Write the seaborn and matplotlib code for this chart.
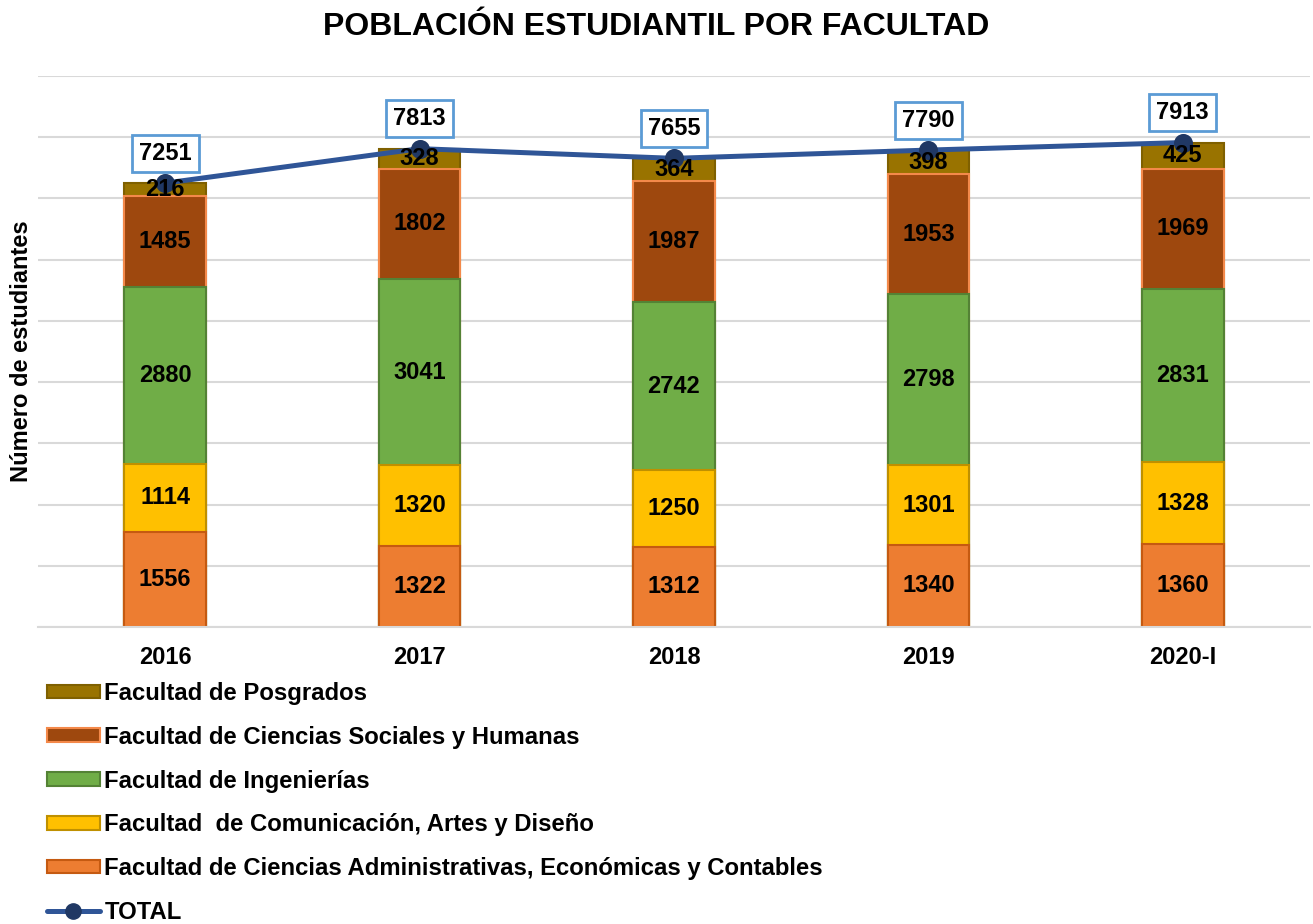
import matplotlib
matplotlib.use("Agg")
import matplotlib.pyplot as plt
import seaborn as sns
import numpy as np
import pandas as pd
from matplotlib.patches import Patch
from matplotlib.lines import Line2D

years = ["2016", "2017", "2018", "2019", "2020-I"]
administrativas = [1556, 1322, 1312, 1340, 1360]
comunicacion = [1114, 1320, 1250, 1301, 1328]
ingenierias = [2880, 3041, 2742, 2798, 2831]
sociales = [1485, 1802, 1987, 1953, 1969]
posgrados = [216, 328, 364, 398, 425]
totals = [7251, 7813, 7655, 7790, 7913]

series_names = [
    "Facultad de Ciencias Administrativas, Económicas y Contables",
    "Facultad  de Comunicación, Artes y Diseño",
    "Facultad de Ingenierías",
    "Facultad de Ciencias Sociales y Humanas",
    "Facultad de Posgrados",
]
series_vals = [administrativas, comunicacion, ingenierias, sociales, posgrados]
face_colors = ["#ED7D31", "#FFC000", "#70AD47", "#9E480E", "#997300"]
edge_colors = ["#C55A11", "#BF9000", "#548235", "#F4894A", "#7F6000"]

sns.set_theme(style="white")
plt.rcParams["font.family"] = ["Liberation Sans", "DejaVu Sans"]
plt.rcParams["font.weight"] = "bold"
plt.rcParams["text.color"] = "black"
plt.rcParams["axes.labelcolor"] = "black"
plt.rcParams["xtick.color"] = "black"
plt.rcParams["ytick.color"] = "black"

fig = plt.figure(figsize=(13.13, 9.24), dpi=100)
ax = fig.add_axes([38 / 1313, 1 - 627 / 924, (1310 - 38) / 1313, (627 - 76) / 924])

vals = np.array(series_vals, dtype=float)
cum = np.cumsum(vals, axis=0)

# draw cumulative bars from top layer down so each lower layer covers the upper one
for i in range(len(series_names) - 1, -1, -1):
    df = pd.DataFrame({"year": years, "value": cum[i]})
    sns.barplot(data=df, x="year", y="value", order=years, ax=ax,
                color=face_colors[i], edgecolor=edge_colors[i], linewidth=1.5,
                width=0.32, errorbar=None, saturation=1, zorder=2)

# total line
dft = pd.DataFrame({"year": years, "total": totals})
sns.pointplot(data=dft, x="year", y="total", order=years, ax=ax, color="#2F5597",
              markers="o", markersize=11, linewidth=3.6, errorbar=None, zorder=4)
for ln in ax.lines:
    ln.set_markerfacecolor("#203864")
    ln.set_markeredgecolor("#203864")
    ln.set_zorder(4)

# segment labels
for i in range(len(series_names)):
    for j in range(len(years)):
        bottom = cum[i][j] - vals[i][j]
        ax.text(j, bottom + vals[i][j] / 2, f"{int(vals[i][j])}", ha="center",
                va="center", fontsize=17, fontweight="bold", color="black", zorder=5)

for j, t in enumerate(totals):
    ax.annotate(f"{t}", xy=(j, t), xytext=(0, 21.5), textcoords="offset points",
                ha="center", va="center", fontsize=17, fontweight="bold",
                color="black", zorder=6,
                bbox=dict(boxstyle="square,pad=0.3", fc="white", ec="#5B9BD5", lw=2))

ax.set_ylim(0, 9000)
ax.set_xlim(-0.5, 4.5)
ax.set_yticks(np.arange(0, 9001, 1000))
ax.set_yticklabels([])
ax.tick_params(axis="y", length=0)
ax.tick_params(axis="x", length=0, pad=14, labelsize=17)
for lab in ax.get_xticklabels():
    lab.set_fontweight("bold")
ax.grid(axis="y", color="#D9D9D9", linewidth=1.5, zorder=0)
ax.set_axisbelow(True)
for s in ["top", "right", "left"]:
    ax.spines[s].set_visible(False)
ax.spines["bottom"].set_color("#D9D9D9")
ax.spines["bottom"].set_linewidth(1.5)
ax.set_xlabel("")
ax.set_ylabel("Número de estudiantes", fontsize=17, fontweight="bold")
ax.yaxis.set_label_coords(-0.004, 0.5)

fig.suptitle("POBLACIÓN ESTUDIANTIL POR FACULTAD", fontsize=23, fontweight="bold",
             x=0.5, y=1 - 27 / 924, va="center")

handles = []
labels = []
for i in range(len(series_names) - 1, -1, -1):
    handles.append(Patch(facecolor=face_colors[i], edgecolor=edge_colors[i], linewidth=1.5))
    labels.append(series_names[i])
handles.append(Line2D([0], [0], color="#2F5597", lw=3.6, marker="o", markersize=11,
                      markerfacecolor="#203864", markeredgecolor="#203864"))
labels.append("TOTAL")

fig.legend(handles, labels, loc="upper left", bbox_to_anchor=(47 / 1313, 1 - 682 / 924),
           frameon=False, prop={"weight": "bold", "size": 17.2},
           labelspacing=0.87, handlelength=2.2, handleheight=0.5, handletextpad=0.2,
           borderpad=0, borderaxespad=0)

fig.savefig("out.png", dpi=100)
